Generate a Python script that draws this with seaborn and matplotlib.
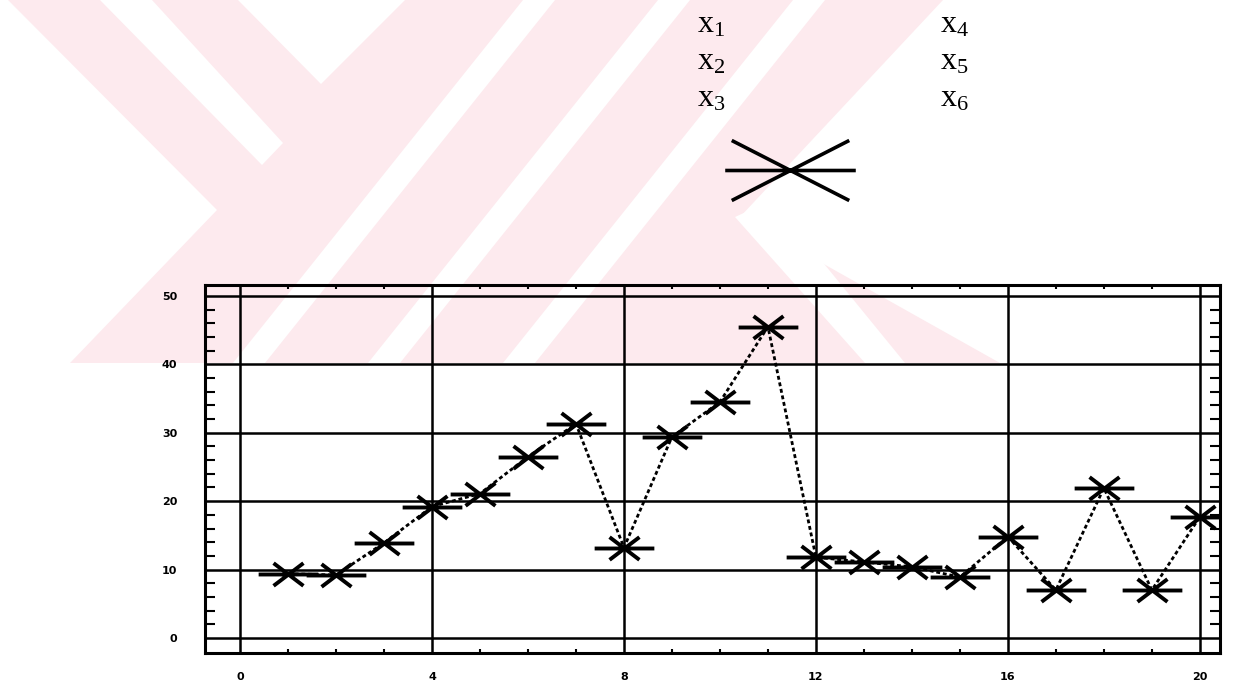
import matplotlib
matplotlib.use("Agg")
import matplotlib.pyplot as plt
from matplotlib.path import Path
import seaborn as sns
import pandas as pd

# values
x_vals = list(range(1, 21))
y_vals = [9.4, 9.2, 13.9, 19.2, 21.1, 26.5, 31.3, 13.2, 29.4, 34.5,
          45.5, 11.8, 11.1, 10.4, 8.9, 14.8, 7.0, 21.9, 7.0, 17.7]
x_ticks = [0, 4, 8, 12, 16, 20]
y_ticks = [0, 10, 20, 30, 40, 50]
legend_left = ['1', '2', '3']
legend_right = ['4', '5', '6']

df = pd.DataFrame({'x': x_vals, 'y': y_vals})

sns.set_style('white')
plt.rcParams['font.family'] = ['DejaVu Sans']
plt.rcParams['text.color'] = 'black'
plt.rcParams['xtick.color'] = 'black'
plt.rcParams['ytick.color'] = 'black'
plt.rcParams['mathtext.fontset'] = 'custom'
plt.rcParams['mathtext.rm'] = 'Liberation Serif'
plt.rcParams['mathtext.it'] = 'Liberation Serif:italic'

# star-ish marker: long horizontal bar crossed by a flat X
star = Path([(-1, 0), (1, 0), (-0.5, 0.38), (0.5, -0.38), (-0.5, -0.38), (0.5, 0.38)],
            [Path.MOVETO, Path.LINETO, Path.MOVETO, Path.LINETO, Path.MOVETO, Path.LINETO])
big_star = Path([(-1, 0), (1, 0), (-0.9, 0.46), (0.9, -0.46), (-0.9, -0.46), (0.9, 0.46)],
                [Path.MOVETO, Path.LINETO, Path.MOVETO, Path.LINETO, Path.MOVETO, Path.LINETO])

fig = plt.figure(figsize=(12.33, 6.88), dpi=100)

# background layer in pixel coords (scan watermark + legend glyph)
bg = fig.add_axes([0, 0, 1, 1], zorder=0)
bg.set_xlim(0, 1233)
bg.set_ylim(688, 0)
bg.axis('off')
pink = '#fdeaee'
bg.fill([8, 943, 740, 1000, 70, 217], [0, 0, 217, 363, 363, 210], color=pink, lw=0)
bg.fill([100, 152, 283, 262], [0, 0, 143, 165], color='white', lw=0)
bg.fill([238, 405, 321], [0, 0, 84], color='white', lw=0)
for x0 in [523, 658, 793]:
    bg.fill([x0, x0 + 32, x0 + 32 - 290, x0 - 290], [0, 0, 363, 363], color='white', lw=0)
bg.fill([735, 772, 905, 865], [217, 200, 363, 363], color='white', lw=0)
bg.plot([790], [170], marker=big_star, markersize=94, markeredgewidth=2.6,
        color='black', markerfacecolor='none', linestyle='none')

ax = fig.add_axes([205 / 1233, 1 - 653 / 688, 1015 / 1233, 368 / 688], zorder=1)
ax.set_facecolor('none')

sns.lineplot(data=df, x='x', y='y', ax=ax, color='black', linewidth=2.0,
             linestyle=(0, (1.4, 1.0)), marker=star, markersize=43,
             markeredgewidth=2.8, markeredgecolor='black', markerfacecolor='none')

ax.set_xlim(-0.73, 20.42)
ax.set_ylim(-2.2, 51.6)
ax.set_xticks(x_ticks)
ax.set_yticks(y_ticks)
ax.set_xticklabels([str(v) for v in x_ticks], fontsize=8, fontweight='bold')
ax.set_yticklabels([str(v) for v in y_ticks], fontsize=8, fontweight='bold')
ax.set_xticks(range(0, 21), minor=True)
ax.set_yticks(range(0, 52, 2), minor=True)
ax.tick_params(which='major', length=0)
ax.tick_params(axis='y', which='major', pad=20)
ax.tick_params(axis='x', which='major', pad=14)
ax.tick_params(axis='y', which='minor', direction='in', left=True, right=True,
               length=7, width=1.5, color='black')
ax.tick_params(axis='x', which='minor', direction='in', bottom=True, top=True,
               length=3, width=1.5, color='black')
ax.grid(True, which='major', color='black', linewidth=1.8)
for s in ax.spines.values():
    s.set_visible(True)
    s.set_color('black')
    s.set_linewidth(2.2)
ax.set_xlabel('')
ax.set_ylabel('')

for i, (a, b) in enumerate(zip(legend_left, legend_right)):
    yy = 1 - (24 + 37 * i) / 688
    fig.text(697 / 1233, yy, r'$\mathrm{x}_{%s}$' % a, fontsize=23, va='center',
             ha='left', color='black')
    fig.text(940 / 1233, yy, r'$\mathrm{x}_{%s}$' % b, fontsize=23, va='center',
             ha='left', color='black')

fig.savefig('out.png', dpi=100)
